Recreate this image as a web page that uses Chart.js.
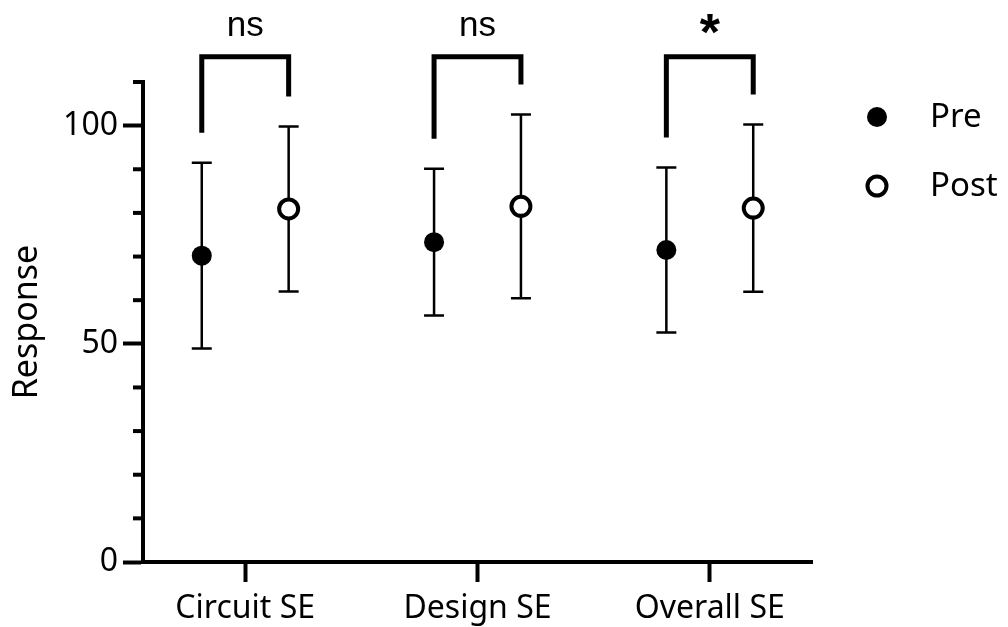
<!DOCTYPE html>
<html>
<head>
<meta charset="utf-8">
<script src="https://cdn.jsdelivr.net/npm/chart.js@4.4.1/dist/chart.umd.min.js"></script>
<style>
  html, body { margin: 0; padding: 0; background: #fff; }
  #wrap { width: 1008px; height: 627px; }
</style>
</head>
<body>
<div id="wrap"><canvas id="c" width="1008" height="627"></canvas></div>
<script>
// ---- data ----
const categories = ['Circuit SE', 'Design SE', 'Overall SE'];
const seriesNames = ['Pre', 'Post'];
const preMean = [70.2, 73.3, 71.5];
const preSD = [21.3, 16.8, 18.9];
const postMean = [80.9, 81.5, 81.1];
const postSD = [18.9, 21.05, 19.15];
const significance = ['ns', 'ns', '*'];
const yTickLabels = [0, 50, 100];

// ---- styling / layout constants ----
const GROUP_OFFSET = 0.187;
const BRACKET_LEVEL = 115.8;
const FONT = '"Noto Sans", "Open Sans", sans-serif';

const preData = preMean.map((v, i) => ({ x: i + 1 - GROUP_OFFSET, y: v }));
const postData = postMean.map((v, i) => ({ x: i + 1 + GROUP_OFFSET, y: v }));
const sds = [preSD, postSD];

const errorBars = {
  id: 'errorBars',
  beforeDatasetsDraw(chart) {
    const { ctx } = chart;
    const xs = chart.scales.x, ys = chart.scales.y;
    ctx.save();
    ctx.strokeStyle = '#000';
    ctx.lineWidth = 2.5;
    chart.data.datasets.forEach((ds, di) => {
      ds.data.forEach((p, i) => {
        const x = xs.getPixelForValue(p.x);
        const yt = ys.getPixelForValue(p.y + sds[di][i]);
        const yb = ys.getPixelForValue(p.y - sds[di][i]);
        ctx.beginPath();
        ctx.moveTo(x, yt); ctx.lineTo(x, yb);
        ctx.moveTo(x - 10, yt); ctx.lineTo(x + 10, yt);
        ctx.moveTo(x - 10, yb); ctx.lineTo(x + 10, yb);
        ctx.stroke();
      });
    });
    ctx.restore();
  }
};

const extras = {
  id: 'extras',
  afterDraw(chart) {
    const { ctx } = chart;
    const xs = chart.scales.x, ys = chart.scales.y;
    ctx.save();
    // minor y ticks
    ctx.strokeStyle = '#000';
    ctx.lineWidth = 4;
    ys.ticks.forEach(t => {
      if (t.value % 50 !== 0) {
        const y = ys.getPixelForValue(t.value);
        ctx.beginPath();
        ctx.moveTo(chart.chartArea.left - 10, y);
        ctx.lineTo(chart.chartArea.left, y);
        ctx.stroke();
      }
    });
    // brackets
    ctx.lineWidth = 5;
    ctx.lineJoin = 'miter';
    ctx.lineCap = 'butt';
    const topY = ys.getPixelForValue(BRACKET_LEVEL);
    categories.forEach((c, i) => {
      const lx = xs.getPixelForValue(preData[i].x);
      const rx = xs.getPixelForValue(postData[i].x);
      const lb = ys.getPixelForValue(preMean[i] + preSD[i]) - 30;
      const rb = ys.getPixelForValue(postMean[i] + postSD[i]) - 30;
      ctx.beginPath();
      ctx.moveTo(lx, lb);
      ctx.lineTo(lx, topY);
      ctx.lineTo(rx, topY);
      ctx.lineTo(rx, rb);
      ctx.stroke();
      ctx.fillStyle = '#000';
      ctx.textAlign = 'center';
      ctx.textBaseline = 'middle';
      const s = significance[i];
      if (s === '*') {
        ctx.font = 'bold 52px "Liberation Sans", Arial, sans-serif';
        ctx.fillText(s, (lx + rx) / 2, topY - 21);
      } else {
        ctx.font = '35px "Liberation Sans", Arial, sans-serif';
        ctx.fillText(s, (lx + rx) / 2, topY - 30);
      }
    });
    // legend
    const legendX = 877, legendY = [117, 186];
    seriesNames.forEach((name, i) => {
      ctx.beginPath();
      if (i === 0) {
        ctx.arc(legendX, legendY[i], 10, 0, Math.PI * 2);
        ctx.fillStyle = '#000';
        ctx.fill();
      } else {
        ctx.arc(legendX, legendY[i], 9.5, 0, Math.PI * 2);
        ctx.fillStyle = '#fff';
        ctx.fill();
        ctx.lineWidth = 4;
        ctx.strokeStyle = '#000';
        ctx.stroke();
      }
      ctx.fillStyle = '#000';
      ctx.font = '33px ' + FONT;
      ctx.textAlign = 'left';
      ctx.textBaseline = 'middle';
      ctx.fillText(name, 930, legendY[i] + 1);
    });
    ctx.restore();
  }
};

new Chart(document.getElementById('c'), {
  type: 'scatter',
  data: {
    datasets: [
      {
        label: seriesNames[0], data: preData,
        pointRadius: 10, pointHoverRadius: 10,
        backgroundColor: '#000', borderColor: '#000', borderWidth: 0
      },
      {
        label: seriesNames[1], data: postData,
        pointRadius: 9.5, pointHoverRadius: 9.5,
        backgroundColor: '#fff', borderColor: '#000', borderWidth: 4
      }
    ]
  },
  options: {
    responsive: false,
    animation: false,
    events: [],
    layout: { padding: { top: 82, right: 196, left: 0, bottom: 0 } },
    plugins: { legend: { display: false }, tooltip: { enabled: false } },
    scales: {
      x: {
        type: 'linear',
        min: 0.56, max: 3.44,
        afterBuildTicks(scale) { scale.ticks = categories.map((c, i) => ({ value: i + 1 })); },
        afterFit(scale) { scale.height = 65; },
        border: { display: true, width: 4, color: '#000' },
        grid: { drawOnChartArea: false, drawTicks: true, tickLength: 20, tickWidth: 4, tickColor: '#000' },
        ticks: {
          autoSkip: false, maxRotation: 0, padding: 8, color: '#000',
          font: { family: FONT, size: 32 },
          callback: (v) => categories[Math.round(v) - 1]
        }
      },
      y: {
        min: 0, max: 110,
        afterFit(scale) { scale.width = 143; },
        border: { display: true, width: 4, color: '#000' },
        grid: {
          drawOnChartArea: false, drawTicks: true, tickLength: 20, tickWidth: 4,
          tickColor: (ctx) => (ctx.tick && yTickLabels.includes(ctx.tick.value)) ? '#000' : 'rgba(0,0,0,0)'
        },
        ticks: {
          stepSize: 10, padding: 5, color: '#000',
          font: { family: FONT, size: 32 },
          callback: (v) => yTickLabels.includes(v) ? String(v) : ''
        },
        title: {
          display: true, text: 'Response', color: '#000',
          font: { family: FONT, size: 34 },
          padding: { top: 7, bottom: 0 }
        }
      }
    }
  },
  plugins: [errorBars, extras]
});
</script>
</body>
</html>
